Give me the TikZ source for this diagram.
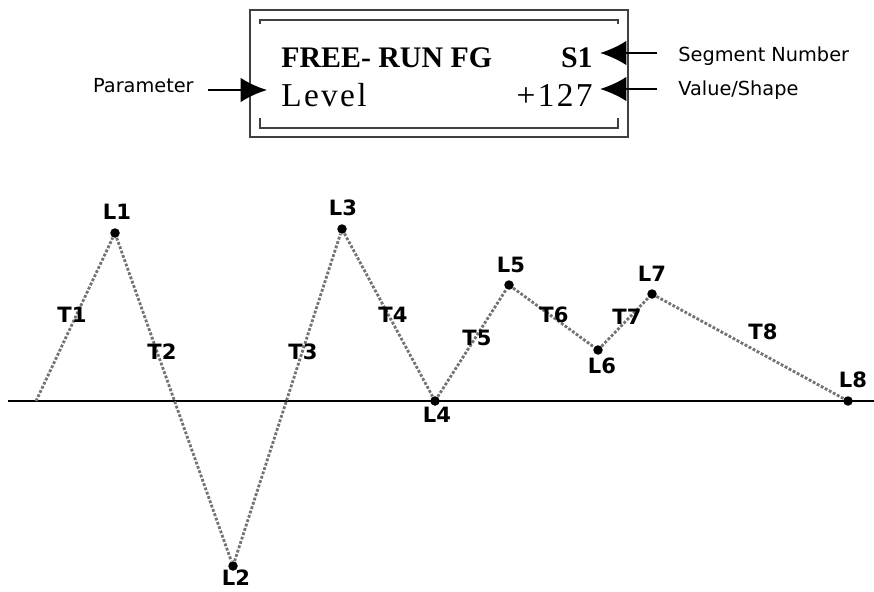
\documentclass[tikz,border=0pt]{standalone}
\usepackage{fontspec}
\setmainfont{Liberation Serif}
\newfontfamily\labelfont{DejaVu Sans}
\usetikzlibrary{arrows.meta}

\begin{document}
\begin{tikzpicture}[x=0.02cm, y=-0.02cm,
    dot/.style={circle, fill=black, inner sep=0pt, minimum size=0.19cm},
    ptlabel/.style={font=\labelfont\bfseries\fontsize{12}{14}\selectfont, inner sep=0pt},
    note/.style={font=\labelfont\fontsize{11}{13}\selectfont, inner sep=0pt},
    lcdbold/.style={inner sep=0pt, font=\bfseries\fontsize{17}{20}\selectfont},
    lcd/.style={inner sep=0pt, font=\fontsize{19}{22}\selectfont\addfontfeature{LetterSpace=7}},
    frame/.style={black!75, line width=1.1pt},
    callout/.style={line width=1.4pt, -{Latex[length=15pt,width=14pt]}},
    seg/.style={black!55, line width=1.6pt, densely dotted}]

    \useasboundingbox (0,0) rectangle (874,591);

    % Display frame
    \draw[frame] (250,10) rectangle (628,137);
    \draw[frame] (260,24) -- (260,20) -- (618,20) -- (618,24);
    \draw[frame] (260,118) -- (260,128) -- (618,128) -- (618,118);

    % Display text
    \node[lcdbold, anchor=base west] (fgname) at (281,68) {FREE- RUN FG};
    \node[lcdbold, anchor=base east] (segnum) at (593,68) {S1};
    \node[lcd, anchor=base west] (level) at (281,107) {Level};
    \node[lcd, anchor=base east] (value) at (593,107) {+127};

    % Callouts
    \node[note, anchor=east] (param) at (194,86) {Parameter};
    \node[note, anchor=west] (segtxt) at (678,56) {Segment Number};
    \node[note, anchor=west] (valtxt) at (678,90) {Value/Shape};
    \coordinate (ptail) at (208,90);
    \coordinate (stail) at (657,53);
    \coordinate (vtail) at (657,89);
    \draw[callout, shorten >=0.28cm] (ptail) -- (ptail -| level.west);
    \draw[callout, shorten >=0.14cm] (stail) -- (stail -| segnum.east);
    \draw[callout, shorten >=0.14cm] (vtail) -- (vtail -| value.east);

    % Zero line
    \draw[line width=1.1pt] (8,401) -- (874,401);

    % Levels
    \coordinate (L0) at (36,401);
    \foreach \n/\x/\y in {1/115/233, 2/233/566, 3/342/229, 4/435/401,
                          5/509/285, 6/598/350, 7/652/294, 8/848/401}
        \node[dot] (L\n) at (\x,\y) {};

    % Segments
    \draw[seg] (L0) -- (L1) -- (L2) -- (L3) -- (L4) -- (L5) -- (L6) -- (L7) -- (L8);

    % Level labels
    \foreach \n/\x/\y in {1/117/212, 2/236/578, 3/343/208, 4/437/415,
                          5/511/265, 6/602/366, 7/652/274, 8/853/380}
        \node[ptlabel] (lab\n) at (\x,\y) {L\n};

    % Time labels
    \foreach \n/\x/\y in {1/72/315, 2/162/352, 3/303/352, 4/393/315,
                          5/477/338, 6/554/315, 7/627/317, 8/763/332}
        \node[ptlabel] (time\n) at (\x,\y) {T\n};
\end{tikzpicture}
\end{document}
